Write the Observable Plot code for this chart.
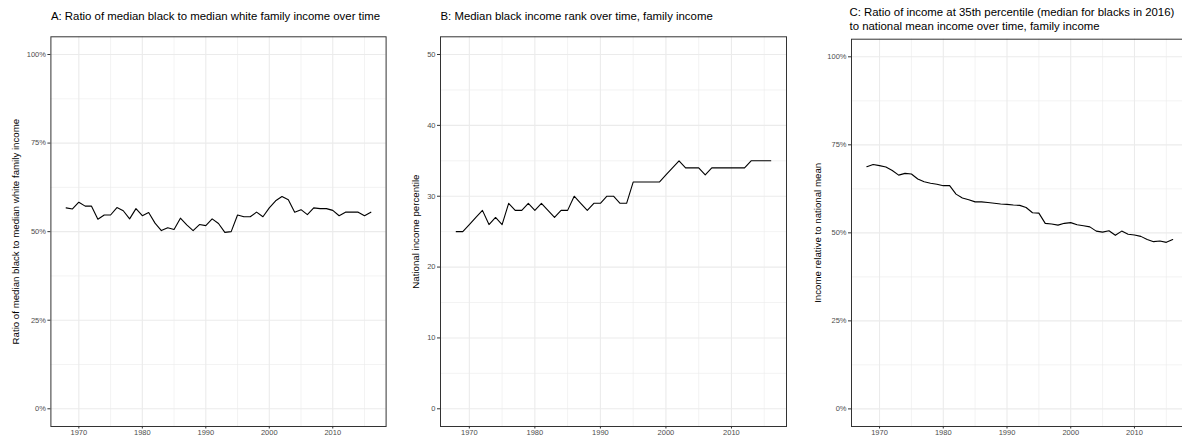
<!DOCTYPE html>
<html>
<head>
<meta charset="utf-8">
<script src="https://cdn.jsdelivr.net/npm/d3@7"></script>
<script src="https://cdn.jsdelivr.net/npm/@observablehq/plot@0.6"></script>
<style>
  html, body { margin: 0; padding: 0; background: #fff; }
  #board { position: relative; width: 1182px; height: 436px; overflow: hidden; background: #fff; }
  #board > svg { position: absolute; top: 0; }
</style>
</head>
<body>
<div id="board"></div>
<script>
// Survey years, one value per year
const years = d3.range(1968, 2017);

// A: median black / median white family income (%)
const ratioBlackWhite = [
  56.7, 56.4, 58.3, 57.2, 57.2, 53.5, 54.7, 54.7, 56.8, 55.9,
  53.6, 56.5, 54.5, 55.4, 52.4, 50.3, 51.1, 50.6, 53.8, 51.9,
  50.3, 52.0, 51.7, 53.6, 52.3, 49.8, 50.0, 54.7, 54.2, 54.2,
  55.5, 54.2, 56.7, 58.7, 59.9, 59.0, 55.5, 56.2, 54.8, 56.7,
  56.5, 56.5, 56.0, 54.5, 55.5, 55.5, 55.5, 54.5, 55.5
];

// B: national income percentile of the median black family
const blackRank = [
  25, 25, 26, 27, 28, 26, 27, 26, 29, 28,
  28, 29, 28, 29, 28, 27, 28, 28, 30, 29,
  28, 29, 29, 30, 30, 29, 29, 32, 32, 32,
  32, 32, 33, 34, 35, 34, 34, 34, 33, 34,
  34, 34, 34, 34, 34, 35, 35, 35, 35
];

// C: income at the 35th percentile relative to the national mean (%)
const ratioP35Mean = [
  68.8, 69.4, 69.1, 68.7, 67.7, 66.4, 66.9, 66.7, 65.3, 64.5,
  64.1, 63.8, 63.4, 63.4, 61.0, 59.9, 59.4, 58.8, 58.8, 58.6,
  58.4, 58.2, 58.1, 57.9, 57.8, 57.2, 55.7, 55.6, 52.7, 52.5,
  52.2, 52.7, 52.9, 52.3, 52.0, 51.7, 50.5, 50.2, 50.6, 49.3,
  50.5, 49.6, 49.4, 49.0, 48.1, 47.5, 47.7, 47.3, 48.1
];

// Axis ticks and grid positions
const xMajor = [1970, 1980, 1990, 2000, 2010];
const xMinor = [1975, 1985, 1995, 2005, 2015];
const pctMajor = [0, 25, 50, 75, 100];
const pctMinor = [12.5, 37.5, 62.5, 87.5];
const rankMajor = [0, 10, 20, 30, 40, 50];
const rankMinor = [5, 15, 25, 35, 45];

const titles = [
  "A: Ratio of median black to median white family income over time",
  "B: Median black income rank over time, family income",
  "C: Ratio of income at 35th percentile (median for blacks in 2016)\nto national mean income over time, family income"
];
const yLabels = [
  "Ratio of median black to median white family income",
  "National income percentile",
  "Income relative to national mean"
];

const FONT = "'Liberation Sans', Arial, Helvetica, sans-serif";

function panel({values, yDomain, yMajor, yMinor, yFormat, title, yLabel,
                left, width, marginLeft, marginRight, marginTop,
                titleDx, titleDy, labelDx}) {
  const svg = Plot.plot({
    width, height: 436,
    marginLeft, marginRight, marginTop, marginBottom: 10,
    style: {fontFamily: FONT, fontSize: "7.5px", background: "transparent", overflow: "visible"},
    x: {domain: [1965.6, 2018.4]},
    y: {domain: yDomain},
    marks: [
      Plot.ruleX(xMinor, {stroke: "#EBEBEB", strokeWidth: 0.6}),
      Plot.ruleY(yMinor, {stroke: "#EBEBEB", strokeWidth: 0.6}),
      Plot.ruleX(xMajor, {stroke: "#EBEBEB", strokeWidth: 1.1}),
      Plot.ruleY(yMajor, {stroke: "#EBEBEB", strokeWidth: 1.1}),
      Plot.lineY(values, {x: years, stroke: "#000", strokeWidth: 1.1}),
      Plot.frame({stroke: "#333", strokeWidth: 1}),
      Plot.axisX(xMajor, {tickSize: 2.5, tickPadding: 0.5, tickFormat: d => `${d}`,
                          stroke: "#333", fill: "#4D4D4D", label: null}),
      Plot.axisY(yMajor, {tickSize: 3, tickPadding: 2, tickFormat: yFormat,
                          stroke: "#333", fill: "#4D4D4D", label: null}),
      Plot.text([title], {frameAnchor: "top-left", textAnchor: "start", lineAnchor: "middle",
                          dx: titleDx, dy: titleDy, fontSize: 11.4, lineHeight: 1.24, fill: "#000"}),
      Plot.text([yLabel], {frameAnchor: "left", textAnchor: "middle", lineAnchor: "middle",
                           rotate: -90, dx: labelDx, fontSize: 9.7, fill: "#000"})
    ]
  });
  svg.style.left = `${left}px`;
  document.getElementById("board").appendChild(svg);
}

const pct = d => `${d}%`;

panel({values: ratioBlackWhite, yDomain: [-5, 105], yMajor: pctMajor, yMinor: pctMinor,
       yFormat: pct, title: titles[0], yLabel: yLabels[0],
       left: 0, width: 392, marginLeft: 50.4, marginRight: 6.4, marginTop: 36.3,
       titleDx: 0, titleDy: -21, labelDx: -35});

panel({values: blackRank, yDomain: [-2.5, 52.5], yMajor: rankMajor, yMinor: rankMinor,
       yFormat: d => `${d}`, title: titles[1], yLabel: yLabels[1],
       left: 392, width: 400, marginLeft: 48, marginRight: 6, marginTop: 36.3,
       titleDx: 0, titleDy: -21, labelDx: -24.3});

panel({values: ratioP35Mean, yDomain: [-5, 105], yMajor: pctMajor, yMinor: pctMinor,
       yFormat: pct, title: titles[2], yLabel: yLabels[2],
       left: 792, width: 400, marginLeft: 59, marginRight: 4.5, marginTop: 38.7,
       titleDx: -2, titleDy: -20.5, labelDx: -34});
</script>
</body>
</html>
